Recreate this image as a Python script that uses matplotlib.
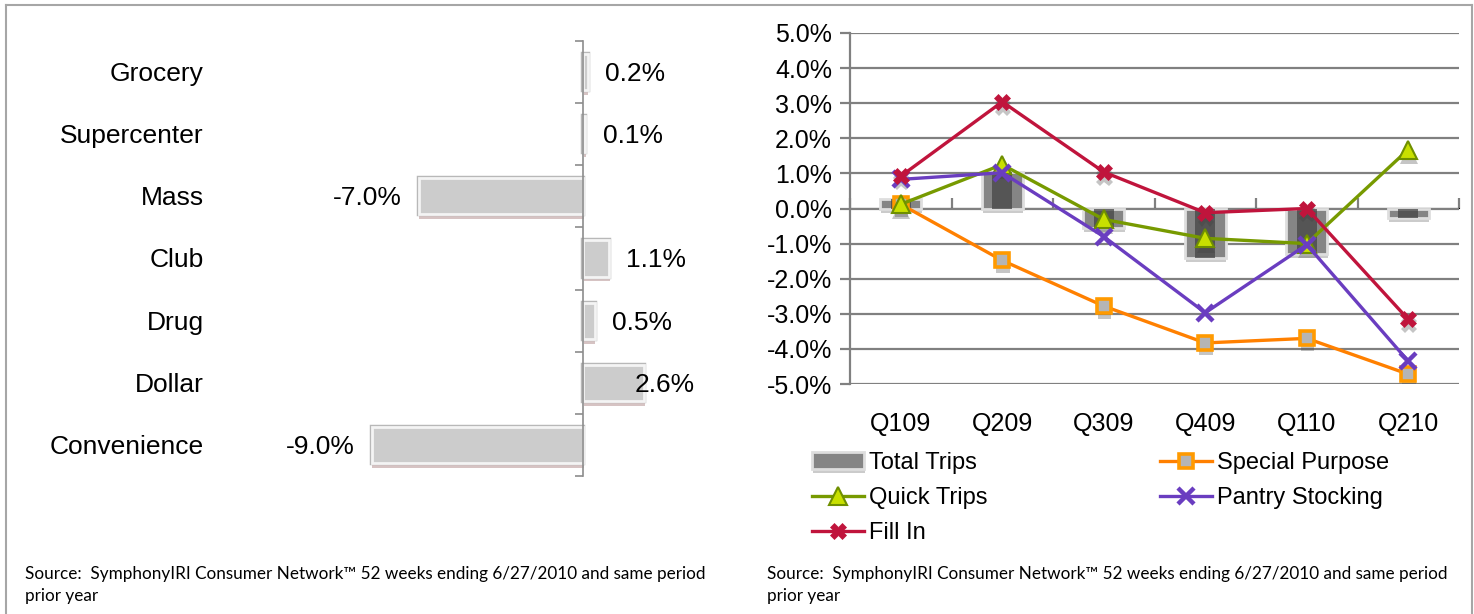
import numpy as np
import matplotlib
matplotlib.use("Agg")
import matplotlib.pyplot as plt
import matplotlib.patheffects as pe
from matplotlib.lines import Line2D
from matplotlib.ticker import FuncFormatter

plt.rcParams['font.family'] = ['Liberation Sans', 'DejaVu Sans']

# left panel: channel trip change
channels = ["Grocery", "Supercenter", "Mass", "Club", "Drug", "Dollar", "Convenience"]
channel_change = [0.2, 0.1, -7.0, 1.1, 0.5, 2.6, -9.0]

# right panel: trip mission change by quarter
quarters = ["Q109", "Q209", "Q309", "Q409", "Q110", "Q210"]
total_trips = [0.26, 1.05, -0.55, -1.4, -1.3, -0.28]
special_purpose = [0.12, -1.48, -2.78, -3.83, -3.7, -4.72]
quick_trips = [0.12, 1.25, -0.31, -0.85, -1.0, 1.68]
pantry_stocking = [0.83, 1.02, -0.8, -2.97, -1.03, -4.35]
fill_in = [0.92, 3.04, 1.04, -0.12, 0.0, -3.16]

source = "Source:  SymphonyIRI Consumer Network\u2122 52 weeks ending 6/27/2010 and same period\nprior year"

W, H = 1474, 614
fig = plt.figure(figsize=(W / 100, H / 100), dpi=100)

def px_rect(l, t, r, b):
    return [l / W, 1 - b / H, (r - l) / W, (b - t) / H]

# ---------- left chart ----------
ax1 = fig.add_axes(px_rect(210, 41, 720, 476))
y = np.arange(len(channels))
bar_fx = [pe.SimplePatchShadow(offset=(0.5, -3.5), shadow_rgbFace='#7a3a3a', alpha=0.3),
          pe.Stroke(linewidth=3.2, foreground='#b8b8b8'), pe.Normal()]
bars = ax1.barh(y, channel_change, height=0.58, color='#cccccc', edgecolor='#f4f4f4', linewidth=2.0)
for b in bars:
    b.set_path_effects(bar_fx)

ax1.set_xlim(-(583 - 210) / 23.5, (720 - 583) / 23.5)
ax1.set_ylim(len(channels) - 0.5, -0.5)
for s in ['top', 'right', 'bottom']:
    ax1.spines[s].set_visible(False)
ax1.spines['left'].set_position(('data', 0))
ax1.spines['left'].set_color('#8c8c8c')
ax1.spines['left'].set_linewidth(1.2)
ax1.set_xticks([])
ax1.set_yticks(y)
ax1.set_yticks(np.arange(len(channels) + 1) - 0.5, minor=True)
ax1.tick_params(axis='y', which='major', length=0, labelleft=False)
ax1.tick_params(axis='y', which='minor', length=6, width=1.2, color='#8c8c8c', direction='out')

label_nudge = {"Dollar": -1.15}
for i, (name, v) in enumerate(zip(channels, channel_change)):
    ax1.text(-0.012, i + 0.03, name, transform=ax1.get_yaxis_transform(), ha='right', va='center', fontsize=19)
    if v >= 0:
        ax1.text(v + 0.75 + label_nudge.get(name, 0), i + 0.03, f"{v:.1f}%", ha='left', va='center', fontsize=19)
    else:
        ax1.text(v - 0.7, i + 0.03, f"{v:.1f}%", ha='right', va='center', fontsize=19)

# ---------- right chart ----------
ax2 = fig.add_axes(px_rect(850, 33, 1459, 384))
x = np.arange(len(quarters))
grid_c = '#808080'

tb = ax2.bar(x, total_trips, width=0.4, color='#858585', edgecolor='#dedede', linewidth=2,
             zorder=2, label="Total Trips")
for b in tb:
    b.set_path_effects([pe.SimplePatchShadow(offset=(0.5, -3), shadow_rgbFace='#555555', alpha=0.3), pe.Normal()])
ax2.bar(x, total_trips, width=0.2, color='#454545', alpha=0.75, linewidth=0, zorder=2.1)

series = [
    ("Special Purpose", special_purpose, dict(color='#ff8000', marker='s', markersize=10,
                                              markerfacecolor='#b5b5b5', markeredgecolor='#ff9a00', markeredgewidth=2.6)),
    ("Quick Trips", quick_trips, dict(color='#779a00', marker='^', markersize=13,
                                      markerfacecolor='#c8e000', markeredgecolor='#6f8f00', markeredgewidth=1.5)),
    ("Pantry Stocking", pantry_stocking, dict(color='#6a3dc0', marker='x', markersize=12, markeredgewidth=3.2)),
    ("Fill In", fill_in, dict(color='#c0143c', marker='X', markersize=12, markeredgewidth=0.5)),
]
handles = {"Total Trips": tb}
for k, (name, vals, style) in enumerate(series):
    # soft drop shadow under the markers only
    ax2.plot(x, vals, linestyle='none', marker=style['marker'], markersize=style['markersize'],
             markeredgewidth=style['markeredgewidth'], color='#404040', zorder=2.5,
             path_effects=[pe.SimplePatchShadow(offset=(0.5, -4), shadow_rgbFace='#404040', alpha=0.3)])
    ln, = ax2.plot(x, vals, linewidth=2.4, zorder=3 + k * 0.1, label=name, **style)
    handles[name] = ln

ax2.set_xlim(-0.5, len(quarters) - 0.5)
ax2.set_ylim(-5, 5)
ax2.set_yticks(np.arange(-5, 6, 1))
ax2.yaxis.set_major_formatter(FuncFormatter(lambda v, p: f"{v:.1f}%"))
ax2.grid(axis='y', color=grid_c, linewidth=1.6, zorder=0)
ax2.set_axisbelow(True)
for s in ['top', 'right', 'bottom']:
    ax2.spines[s].set_visible(False)
ax2.spines['left'].set_color(grid_c)
ax2.spines['left'].set_linewidth(1.6)
ax2.tick_params(axis='y', length=7, width=1.6, color=grid_c, labelsize=18, pad=6)
ax2.set_xticks(x)
ax2.set_xticklabels(quarters)
ax2.tick_params(axis='x', length=0, labelsize=18, pad=20)

sec = ax2.secondary_xaxis(0.5)
sec.set_xticks(np.arange(len(quarters) + 1) - 0.5)
sec.set_xticklabels([])
sec.tick_params(axis='x', length=7, width=1.6, color=grid_c, labelbottom=False, labeltop=False)
sec.spines['bottom'].set_color(grid_c)
sec.spines['bottom'].set_linewidth(1.6)

order = ["Total Trips", "Quick Trips", "Fill In", "Special Purpose", "Pantry Stocking"]
fig.legend([handles[k] for k in order], order, ncol=2, frameon=False, fontsize=17,
           loc='upper left', bbox_to_anchor=(812 / W, 1 - 452 / H),
           handlelength=2.2, handletextpad=0.22, columnspacing=7.3,
           labelspacing=0.56, borderpad=0, borderaxespad=0)

# source notes
src_font = dict(ha='left', va='top', fontsize=12.3, family=['Lato', 'DejaVu Sans'], linespacing=1.45)
fig.text(25 / W, 1 - 566 / H, source, **src_font)
fig.text(767 / W, 1 - 566 / H, source, **src_font)

# outer frame
fc = '#a6a6a6'
fig.add_artist(Line2D([6 / W, 6 / W], [0, 1 - 5 / H], transform=fig.transFigure, color=fc, lw=1.5))
fig.add_artist(Line2D([6 / W, 1472 / W], [1 - 5 / H, 1 - 5 / H], transform=fig.transFigure, color=fc, lw=1.5))
fig.add_artist(Line2D([1472 / W, 1472 / W], [0, 1 - 5 / H], transform=fig.transFigure, color=fc, lw=1.5))

fig.savefig("out.png", dpi=100)
